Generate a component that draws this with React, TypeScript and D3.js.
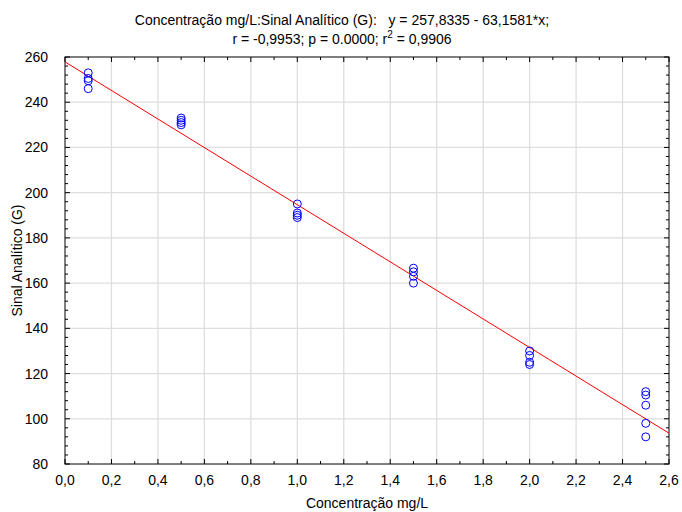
import React from "react";
import * as d3 from "d3";

const xGroups = [0.1, 0.5, 1.0, 1.5, 2.0, 2.5];
const signalValues = [
  [253, 250.5, 249.5, 246],
  [233, 232, 231, 230],
  [195, 191, 190, 189],
  [166.6, 165, 163, 160],
  [130, 128, 125, 124],
  [112, 110.5, 106, 98, 92],
];
const intercept = 257.8335;
const slope = -63.1581;
const xTicks = [0, 0.2, 0.4, 0.6, 0.8, 1.0, 1.2, 1.4, 1.6, 1.8, 2.0, 2.2, 2.4, 2.6];
const yTicks = [80, 100, 120, 140, 160, 180, 200, 220, 240, 260];
const titleLine1 = "Concentração mg/L:Sinal Analítico (G):   y = 257,8335 - 63,1581*x;";
const xTitle = "Concentração mg/L";
const yTitle = "Sinal Analítico (G)";

const W = 682, H = 512;
const L = 65, R = 669, T = 57, B = 464;
const font = "'Liberation Sans', Arial, sans-serif";

export default function App() {
  const x = d3.scaleLinear().domain([0, 2.6]).range([L, R]);
  const y = d3.scaleLinear().domain([80, 260]).range([B, T]);
  const fmt = (v: number) => v.toFixed(1).replace(".", ",");
  const xMinor = d3.range(0, 27).map((i) => i / 10);
  const yMinor = d3.range(80, 261, 4);
  const points: { cx: number; cy: number }[] = [];
  xGroups.forEach((g, i) => signalValues[i].forEach((v) => points.push({ cx: x(g), cy: y(v) })));
  const line = d3.line<number>().x((d) => x(d)).y((d) => y(intercept + slope * d));

  return (
    <svg width={W} height={H} style={{ position: "absolute", left: 0, top: 0, background: "#fff" }} fontFamily={font}>
      <defs>
        <clipPath id="plot">
          <rect x={L} y={T} width={R - L} height={B - T} />
        </clipPath>
      </defs>
      {xTicks.slice(1, -1).map((t) => (
        <line key={"gx" + t} x1={x(t)} x2={x(t)} y1={T} y2={B} stroke="#dedede" strokeWidth={1.3} />
      ))}
      {yTicks.slice(1, -1).map((t) => (
        <line key={"gy" + t} x1={L} x2={R} y1={y(t)} y2={y(t)} stroke="#dedede" strokeWidth={1.3} />
      ))}
      {xMinor.map((t, i) => {
        const len = i % 2 === 0 ? 5 : 3;
        return (
          <g key={"xt" + i}>
            <line x1={x(t)} x2={x(t)} y1={B} y2={B - len} stroke="#000" />
            <line x1={x(t)} x2={x(t)} y1={T} y2={T + len} stroke="#000" />
          </g>
        );
      })}
      {yMinor.map((t, i) => {
        const len = i % 5 === 0 ? 5 : 3;
        return (
          <g key={"yt" + i}>
            <line x1={L} x2={L + len} y1={y(t)} y2={y(t)} stroke="#000" />
            <line x1={R} x2={R - len} y1={y(t)} y2={y(t)} stroke="#000" />
          </g>
        );
      })}
      <rect x={L} y={T} width={R - L} height={B - T} fill="none" stroke="#000" strokeWidth={1} />
      <path d={line([0, 2.6]) || ""} stroke="#ff0000" strokeWidth={1} fill="none" clipPath="url(#plot)" />
      {points.map((p, i) => (
        <circle key={i} cx={p.cx} cy={p.cy} r={4} fill="none" stroke="#0000ff" strokeWidth={1} />
      ))}
      {xTicks.map((t) => (
        <text key={"xl" + t} x={x(t)} y={B + 21} fontSize={14} textAnchor="middle">{fmt(t)}</text>
      ))}
      {yTicks.map((t) => (
        <text key={"yl" + t} x={L - 17} y={y(t) + 5} fontSize={14} textAnchor="end">{t}</text>
      ))}
      <text x={342} y={25} fontSize={14} textAnchor="middle" style={{ whiteSpace: "pre" }}>{titleLine1}</text>
      <text x={342} y={44} fontSize={14} textAnchor="middle">
        r = -0,9953; p = 0.0000; r<tspan dy={-6} fontSize={10}>2</tspan><tspan dy={6}> = 0,9906</tspan>
      </text>
      <text x={(L + R) / 2} y={508} fontSize={14} textAnchor="middle">{xTitle}</text>
      <text transform={`translate(22,${(T + B) / 2}) rotate(-90)`} fontSize={14} textAnchor="middle">{yTitle}</text>
    </svg>
  );
}
